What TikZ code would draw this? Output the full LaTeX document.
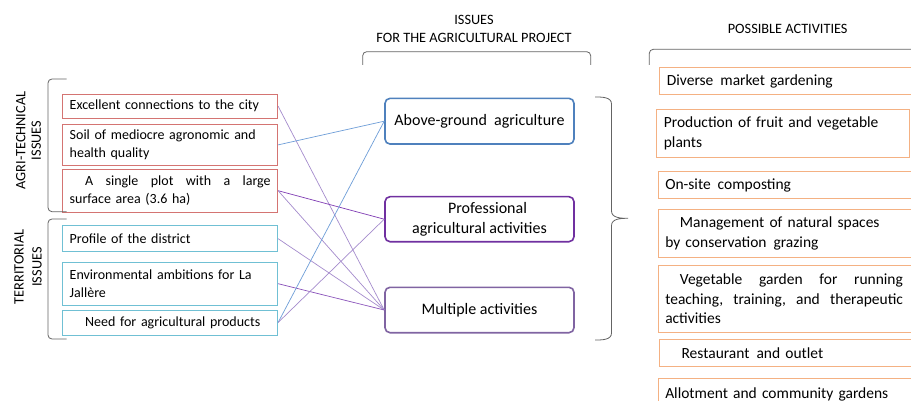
\documentclass[tikz,border=0pt]{standalone}
\usepackage{fontspec}
\setmainfont{Carlito}
\definecolor{redc}{RGB}{212,116,114}
\definecolor{bluec}{RGB}{112,192,212}
\definecolor{mblue}{RGB}{79,129,189}
\definecolor{mpurp}{RGB}{112,48,160}
\definecolor{mlav}{RGB}{128,100,162}
\definecolor{orangec}{RGB}{244,177,131}
\definecolor{brk}{RGB}{100,100,100}
\definecolor{lblue}{RGB}{110,158,216}
\definecolor{lpurp}{RGB}{165,140,205}
\definecolor{dpurp}{RGB}{128,60,180}
\newcommand{\wsp}{\hspace{0.45em}}
\tikzset{
  lbox/.style={draw=#1, line width=0.8pt, inner xsep=7pt, inner ysep=0pt, text width=201pt, align=left, font=\fontsize{14}{17.6}\selectfont},
  mbox/.style={draw=#1, line width=1.6pt, rounded corners=5pt, minimum width=189pt, align=center, font=\fontsize{16}{20}\selectfont},
  rbox/.style={draw=orangec, line width=1.1pt, inner xsep=7pt, inner ysep=0pt, anchor=west, align=left, font=\fontsize{15.5}{19.6}\selectfont},
  hdr/.style={align=center, font=\fontsize{14.3}{17.7}\selectfont},
  brack/.style={draw=brk, line width=0.8pt, rounded corners=4pt},
  conn/.style={line width=0.7pt, draw=#1},
}
\begin{document}
\begin{tikzpicture}[x=1pt,y=-1pt]
\clip (0,0) rectangle (911,401);
\fill[white] (0,0) rectangle (911,401);
% left boxes
\node[lbox=redc, minimum height=24.3pt] (b1) at (170.2,106.2) {Excellent connections to the city};
\node[lbox=redc, minimum height=41.7pt] (b2) at (170.2,144.9) {Soil of mediocre agronomic and\\health quality};
\node[lbox=redc, minimum height=43.3pt] (b3) at (170.2,190.7) {\hspace*{1.1em}A\hfill single\hfill plot\hfill with\hfill a\hfill large\\surface area (3.6 ha)};
\node[lbox=bluec, minimum height=26pt] (b4) at (170.2,238.7) {Profile of the district};
\node[lbox=bluec, minimum height=42.7pt] (b5) at (170.2,283.7) {Environmental ambitions for La\\Jallère};
\node[lbox=bluec, minimum height=25pt] (b6) at (170.2,322.5) {\hspace*{1.1em}Need for agricultural products};
% left brackets and labels
\draw[brack] (66.5,79) -| (48,211.7) -- (66.5,211.7);
\draw[brack] (66.5,219) -| (48,339) -- (66.5,339);
\node[hdr, rotate=90, font=\fontsize{14.3}{15.5}\selectfont] (lab1) at (28.5,140.5) {AGRI-TECHNICAL\\ISSUES};
\node[hdr, rotate=90, font=\fontsize{14.3}{18}\selectfont] (lab2) at (28,267) {TERRITORIAL\\ISSUES};
% middle
\node[hdr] (h1) at (474,29) {ISSUES\\FOR THE AGRICULTURAL PROJECT};
\draw[brack] (362.7,65) |- (590.7,51.7) -- (590.7,65);
\node[mbox=mblue, minimum height=45.7pt] (m1) at (479.5,121.2) {Above-ground\wsp agriculture};
\node[mbox=mpurp, minimum height=45pt] (m2) at (479.5,219.2) {\hspace*{1em}Professional\\agricultural activities};
\node[mbox=mlav, minimum height=45.4pt] (m3) at (479.5,310) {Multiple activities};
% connectors
\draw[conn=lpurp] (b1.east) -- (m3.west);
\draw[conn=lblue] (b2.east) -- (m1.west);
\draw[conn=dpurp] (b3.east) -- (m2.west);
\draw[conn=lpurp] (b3.east) -- (m3.west);
\draw[conn=lpurp] (b4.east) -- (m3.west);
\draw[conn=dpurp!70!lpurp] (b5.east) -- (m3.west);
\draw[conn=lblue] (b6.east) -- (m1.west);
\draw[conn=lpurp] (b6.east) -- (m2.west);
% brace
\draw[draw=brk, line width=0.8pt] (595,97) to[out=0,in=90] (611.5,104) -- (611.5,211) to[out=-90,in=180] (628,218.3) to[out=180,in=90] (611.5,225.6) -- (611.5,333) to[out=-90,in=0] (595,340);
% right
\node[hdr] (h2) at (787.7,29) {POSSIBLE ACTIVITIES};
\draw[brack] (649.3,65) |- (915,49.3);
\node[rbox, text width=241.7pt, minimum height=26.6pt] (r1) at (659.3,81) {Diverse\wsp market gardening};
\node[rbox, text width=238.4pt, minimum height=48pt] (r2) at (656.3,133.3) {Production of fruit and vegetable\\plants};
\node[rbox, text width=243.3pt, minimum height=27.3pt] (r3) at (657.7,185.3) {On-site\wsp composting};
\node[rbox, text width=243.3pt, minimum height=48pt] (r4) at (657.7,233.3) {\hspace*{0.95em}Management of natural spaces\\by conservation\wsp grazing};
\node[rbox, text width=243.3pt, minimum height=67.3pt] (r5) at (657.7,298.7) {\parbox{237.7pt}{\hspace*{0.95em}Vegetable\hfill garden\hfill for\hfill running\\teaching,\hfill training,\hfill and\hfill therapeutic\\activities}};
\node[rbox, text width=241.7pt, minimum height=26.7pt] (r6) at (659.3,352.7) {\hspace*{0.95em}Restaurant\wsp and outlet};
\node[rbox, text width=243.3pt, minimum height=31pt] (r7) at (657.7,394) {Allotment and community gardens};
\end{tikzpicture}
\end{document}
